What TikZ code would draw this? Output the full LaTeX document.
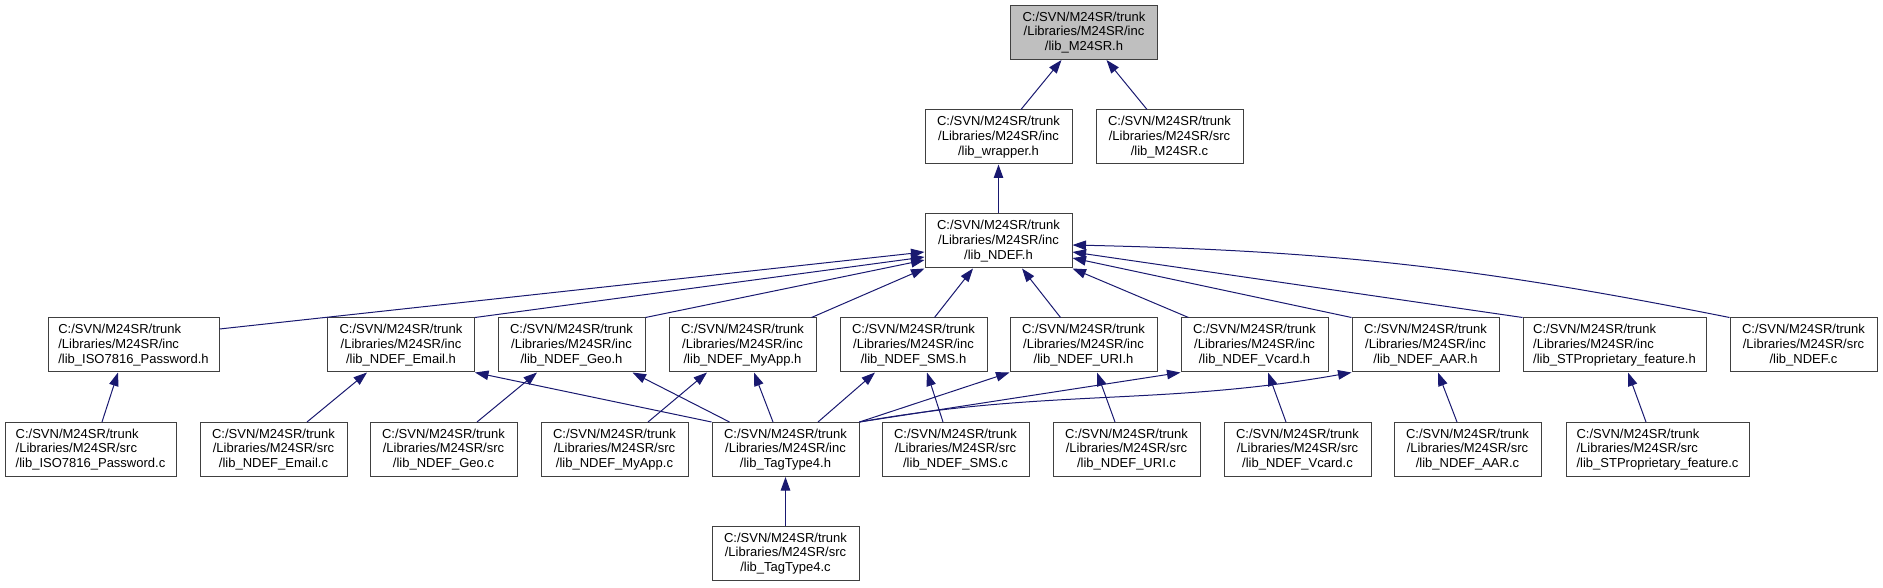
\documentclass[tikz,border=0pt]{standalone}
\usepackage{fontspec}
\setmainfont{Liberation Sans}
\usetikzlibrary{arrows.meta}
\definecolor{edgeblue}{RGB}{25,25,112}
\newcommand{\incfile}[1]{C:/SVN/M24SR/trunk\\/Libraries/M24SR/inc\\/#1}
\newcommand{\srcfile}[1]{C:/SVN/M24SR/trunk\\/Libraries/M24SR/src\\/#1}
\begin{document}
\begin{tikzpicture}[x=1pt,y=1pt,
		filebox/.style={draw=black!75, line width=1pt, fill=white, minimum width=147pt, minimum height=54pt, inner sep=0pt, align=center, font=\fontsize{13}{14.7}\selectfont},
		widebox/.style={filebox, align=left},
		edge/.style={draw=edgeblue, line width=1pt, -{Triangle[length=13.5pt,width=9.5pt]}}]
			\useasboundingbox (0,0) rectangle (1883,587);
			\draw (1084,554.5) node[filebox, fill=black!25] (m24srh) {\incfile{lib\_M24SR.h}};
			\draw (998.5,450) node[filebox] (wrapperh) {\incfile{lib\_wrapper.h}};
			\draw (1169.5,450) node[filebox] (m24src) {\srcfile{lib\_M24SR.c}};
			\draw (998.5,346) node[filebox] (ndefh) {\incfile{lib\_NDEF.h}};
			\draw (133.5,242) node[widebox, minimum width=171pt] (isoh) {\incfile{lib\_ISO7816\_Password.h}};
			\draw (401,242) node[filebox] (emailh) {\incfile{lib\_NDEF\_Email.h}};
			\draw (571.5,242) node[filebox] (geoh) {\incfile{lib\_NDEF\_Geo.h}};
			\draw (742.5,242) node[filebox] (myapph) {\incfile{lib\_NDEF\_MyApp.h}};
			\draw (913.5,242) node[filebox] (smsh) {\incfile{lib\_NDEF\_SMS.h}};
			\draw (1083.5,242) node[filebox] (urih) {\incfile{lib\_NDEF\_URI.h}};
			\draw (1254.5,242) node[filebox] (vcardh) {\incfile{lib\_NDEF\_Vcard.h}};
			\draw (1425.5,242) node[filebox] (aarh) {\incfile{lib\_NDEF\_AAR.h}};
			\draw (1614.5,242) node[widebox, minimum width=183pt] (stproph) {\incfile{lib\_STProprietary\_feature.h}};
			\draw (1803.5,242) node[filebox] (ndefc) {\srcfile{lib\_NDEF.c}};
			\draw (90.5,137.5) node[widebox, minimum width=171pt] (isoc) {\srcfile{lib\_ISO7816\_Password.c}};
			\draw (273.5,137.5) node[filebox] (emailc) {\srcfile{lib\_NDEF\_Email.c}};
			\draw (443.5,137.5) node[filebox] (geoc) {\srcfile{lib\_NDEF\_Geo.c}};
			\draw (614.5,137.5) node[filebox] (myappc) {\srcfile{lib\_NDEF\_MyApp.c}};
			\draw (785.5,137.5) node[filebox] (tt4h) {\incfile{lib\_TagType4.h}};
			\draw (955.5,137.5) node[filebox] (smsc) {\srcfile{lib\_NDEF\_SMS.c}};
			\draw (1126.5,137.5) node[filebox] (uric) {\srcfile{lib\_NDEF\_URI.c}};
			\draw (1297.5,137.5) node[filebox] (vcardc) {\srcfile{lib\_NDEF\_Vcard.c}};
			\draw (1467.5,137.5) node[filebox] (aarc) {\srcfile{lib\_NDEF\_AAR.c}};
			\draw (1657.5,137.5) node[widebox, minimum width=183pt] (stpropc) {\srcfile{lib\_STProprietary\_feature.c}};
			\draw (785.5,33.5) node[filebox] (tt4c) {\srcfile{lib\_TagType4.c}};
			\draw[edge] (wrapperh) to (m24srh);
			\draw[edge] (m24src) to (m24srh);
			\draw[edge] (ndefh) to (wrapperh);
			\draw[edge] ([yshift=16pt]isoh.east) to ([yshift=-11pt]ndefh.west);
			\draw[edge] (emailh.north east) to ([yshift=-16pt]ndefh.west);
			\draw[edge] (geoh.north east) to ([yshift=-19pt]ndefh.west);
			\draw[edge] ([xshift=-5pt]myapph.north east) to (ndefh.south west);
			\draw[edge] ([xshift=21pt]smsh.north) to ([xshift=-25.5pt]ndefh.south);
			\draw[edge] ([xshift=-23pt]urih.north) to ([xshift=23.5pt]ndefh.south);
			\draw[edge] ([xshift=8pt]vcardh.north west) to (ndefh.south east);
			\draw[edge] (aarh.north west) to ([yshift=-17pt]ndefh.east);
			\draw[edge] (stproph.north west) to ([yshift=-11pt]ndefh.east);
			\draw[edge] (ndefc.north west) to [bend right=5] ([yshift=-4pt]ndefh.east);
			\draw[edge] ([xshift=11.5pt]isoc.north) to ([xshift=-15.5pt]isoh.south);
			\draw[edge] ([xshift=33.5pt]emailc.north) to ([xshift=-34pt]emailh.south);
			\draw[edge] ([xshift=33.5pt]geoc.north) to ([xshift=-34.5pt]geoh.south);
			\draw[edge] ([xshift=33.5pt]myappc.north) to ([xshift=-35.5pt]myapph.south);
			\draw[edge] ([xshift=-12.5pt]smsc.north) to ([xshift=13.5pt]smsh.south);
			\draw[edge] ([xshift=-11.5pt]uric.north) to ([xshift=13.5pt]urih.south);
			\draw[edge] ([xshift=-11.5pt]vcardc.north) to ([xshift=13.5pt]vcardh.south);
			\draw[edge] ([xshift=-10.5pt]aarc.north) to ([xshift=12.5pt]aarh.south);
			\draw[edge] ([xshift=-11.5pt]stpropc.north) to ([xshift=13.5pt]stproph.south);
			\draw[edge] (tt4h.north west) to (emailh.south east);
			\draw[edge] ([xshift=18pt]tt4h.north west) to ([xshift=-13pt]geoh.south east);
			\draw[edge] ([xshift=-12.5pt]tt4h.north) to ([xshift=11.5pt]myapph.south);
			\draw[edge] ([xshift=32.5pt]tt4h.north) to ([xshift=-38.5pt]smsh.south);
			\draw[edge] (tt4h.north east) to (urih.south west);
			\draw[edge] (tt4h.north east) to (vcardh.south west);
			\draw[edge] (tt4h.north east) to [out=10,in=190] (aarh.south west);
			\draw[edge] (tt4c) to (tt4h);
		\end{tikzpicture}
\end{document}
